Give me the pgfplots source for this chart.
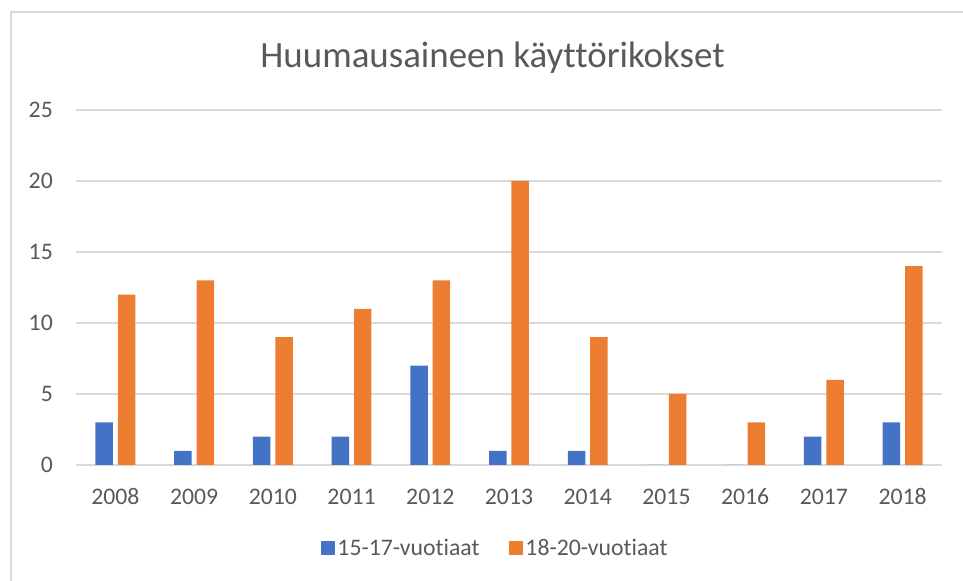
\documentclass[border=0pt]{standalone}
\usepackage{pgfplots}
\pgfplotsset{compat=1.18}
\usepackage{fontspec}
\setmainfont{Carlito}[Ligatures=NoCommon]
\definecolor{cblue}{HTML}{4472C4}
\definecolor{corange}{HTML}{ED7D31}
\definecolor{tgray}{HTML}{595959}
\definecolor{ggray}{HTML}{D9D9D9}
\begin{document}
\begin{tikzpicture}[x=0.75pt,y=0.75pt]
\path[use as bounding box] (0,0) rectangle (963,581);
\draw[ggray, line width=1.2pt] (11,-2) -- (11,569) -- (965,569);
\begin{axis}[
  at={(57pt,87pt)}, anchor=south west,
  scale only axis, width=649.5pt, height=266.25pt,
  xmin=-0.5, xmax=10.5, ymin=0, ymax=25,
  ytick={0,5,10,15,20,25},
  xtick={0,1,2,3,4,5,6,7,8,9,10},
  xticklabels={2008,2009,2010,2011,2012,2013,2014,2015,2016,2017,2018},
  /pgf/number format/assume math mode=true,
  axis line style={draw=none},
  major tick length=0pt,
  tick style={draw=none},
  ymajorgrids,
  major grid style={ggray, line width=0.9pt},
  ticklabel style={font=\fontsize{17.8}{21}\selectfont, text=tgray, inner sep=0pt},
  yticklabel style={anchor=east, xshift=-17.2pt},
  xticklabel style={anchor=center, yshift=-23.6pt},
  title={Huumausaineen käyttörikokset},
  title style={font=\fontsize{27.7}{33}\selectfont, text=tgray, at={(0.481,1.1211)}, anchor=base, inner sep=0pt, yshift=-6pt},
  legend style={at={(0.4844,-0.234)}, anchor=center, draw=none, fill=none,
    font=\fontsize{17.8}{21}\selectfont, text=tgray, legend columns=2,
    /tikz/every even column/.append style={column sep=20pt}},
  legend image code/.code={\fill[#1] (0pt,-5.25pt) rectangle (10.5pt,5.25pt);},
  clip=false,
]
\addplot[ybar, bar width=13.1pt, bar shift=-8.4pt, fill=cblue, draw=none]
  coordinates {(0,3) (1,1) (2,2) (3,2) (4,7) (5,1) (6,1) (7,0) (8,0) (9,2) (10,3)};
\addplot[ybar, bar width=13.1pt, bar shift=8.4pt, fill=corange, draw=none]
  coordinates {(0,12) (1,13) (2,9) (3,11) (4,13) (5,20) (6,9) (7,5) (8,3) (9,6) (10,14)};
\legend{15-17-vuotiaat,18-20-vuotiaat}
\end{axis}
\end{tikzpicture}
\end{document}
